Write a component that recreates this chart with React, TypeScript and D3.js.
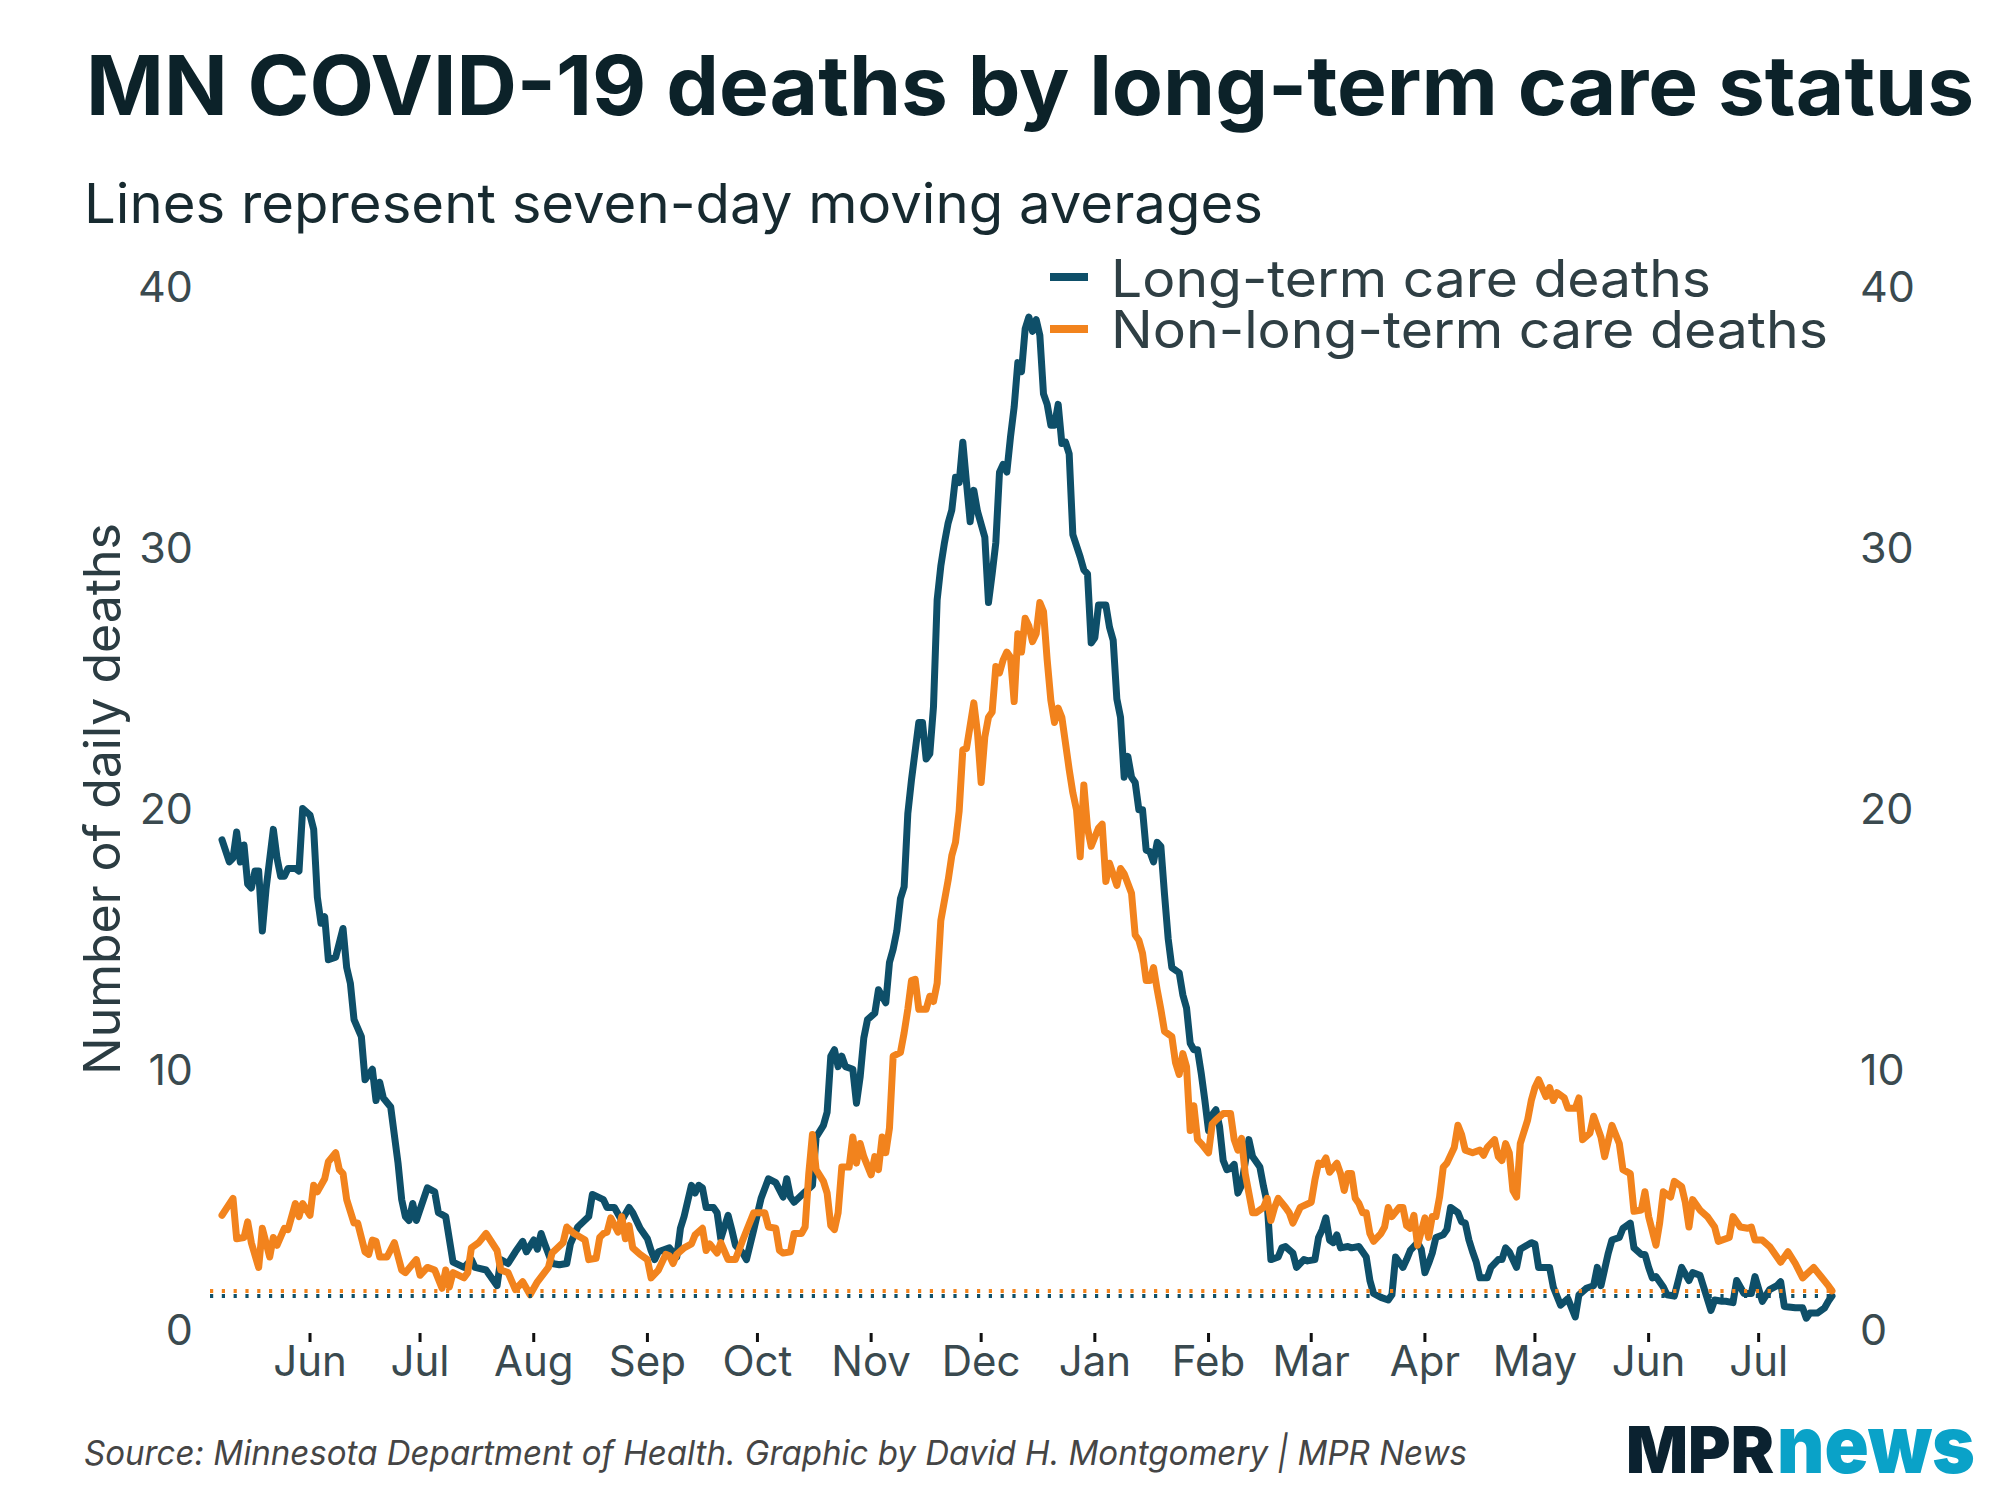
import React from "react";
import * as d3 from "d3";

// [day offset from 2020-06-01, 7-day average deaths]
const ltcSeries: [number, number][] = [
  [-24,18.8],[-22,17.95],[-21,18.1],[-20,19.1],[-19,17.95],[-18,18.6],[-17,17.1],[-16,16.95],[-15,17.6],[-14,17.6],[-13,15.3],[-12,16.9],[-10,19.2],[-9,18.1],[-8,17.4],[-7,17.4],[-6,17.7],[-4,17.7],[-3,17.6],[-2,20.0],[0,19.75],[1,19.2],[2,16.6],[3,15.6],[4,15.85],[5,14.2],[7,14.3],[9,15.4],[10,13.9],[11,13.3],[12,11.9],[14,11.25],[15,9.6],[17,10.0],[18,8.8],[19,9.5],[20,8.9],[22,8.55],[24,6.4],[25,5.0],[26,4.35],[27,4.2],[28,4.85],[29,4.2],[32,5.45],[34,5.3],[35,4.5],[37,4.35],[39,2.6],[42,2.4],[44,2.7],[45,2.4],[48,2.3],[51,1.7],[52,2.7],[54,2.55],[56,3.0],[58,3.4],[59,3.0],[61,3.45],[62,3.1],[63,3.7],[64,3.3],[66,2.55],[68,2.5],[70,2.55],[71,3.3],[73,3.95],[76,4.35],[77,5.2],[80,5.0],[81,4.7],[83,4.7],[85,4.2],[87,4.7],[88,4.5],[90,3.9],[92,3.5],[93,3.05],[94,2.7],[95,3.0],[98,3.15],[100,2.8],[101,3.9],[102,4.35],[104,5.55],[105,5.25],[106,5.55],[107,5.45],[108,4.7],[110,4.7],[111,4.5],[112,3.5],[114,4.4],[115,3.85],[116,3.25],[118,2.95],[119,2.7],[121,3.85],[123,5.05],[125,5.8],[127,5.65],[129,5.1],[130,5.8],[131,5.1],[132,4.9],[135,5.3],[137,5.55],[138,7.4],[140,7.85],[141,8.35],[142,10.5],[143,10.75],[144,10.1],[145,10.5],[146,10.1],[148,10.0],[149,8.7],[150,9.7],[151,11.2],[152,11.9],[154,12.15],[155,13.05],[157,12.55],[158,14.1],[159,14.6],[160,15.3],[161,16.55],[162,17.0],[163,19.8],[164,21.1],[166,23.3],[167,23.3],[168,21.9],[169,22.1],[170,23.9],[171,28.0],[172,29.3],[173,30.2],[174,30.95],[175,31.45],[176,32.7],[177,32.5],[178,34.05],[179,32.5],[180,31.0],[181,32.2],[182,31.4],[184,30.4],[185,27.9],[186,29.0],[187,30.2],[188,32.9],[189,33.2],[190,32.9],[191,34.25],[192,35.4],[193,37.1],[194,36.75],[195,38.4],[196,38.85],[197,38.3],[198,38.75],[199,38.15],[200,35.9],[201,35.5],[202,34.7],[203,34.7],[204,35.5],[205,34.0],[206,34.05],[207,33.6],[208,30.5],[210,29.65],[211,29.15],[212,29.0],[213,26.35],[214,26.55],[215,27.8],[217,27.8],[218,26.95],[219,26.45],[220,24.2],[221,23.5],[222,21.2],[223,22.0],[224,21.2],[225,21.0],[226,19.95],[227,19.95],[228,18.4],[229,18.35],[230,17.95],[231,18.7],[232,18.55],[233,16.7],[234,15.0],[235,13.9],[237,13.7],[238,12.85],[239,12.35],[240,11.0],[241,10.75],[242,10.75],[243,9.85],[244,8.8],[245,7.65],[246,8.25],[247,8.45],[248,7.8],[249,6.5],[250,6.15],[251,6.2],[252,6.35],[253,5.25],[254,5.55],[256,7.3],[257,6.65],[259,6.25],[260,5.5],[261,4.85],[262,2.7],[264,2.8],[265,3.15],[266,3.2],[268,2.95],[269,2.4],[271,2.7],[272,2.65],[274,2.7],[275,3.55],[276,3.85],[277,4.3],[278,3.45],[279,3.35],[280,3.65],[281,3.15],[283,3.2],[284,3.15],[286,3.2],[287,3.0],[288,2.8],[289,1.9],[290,1.4],[292,1.25],[294,1.15],[295,1.35],[296,2.8],[298,2.4],[299,2.7],[300,3.05],[302,3.35],[303,3.1],[304,2.2],[305,2.55],[306,2.95],[307,3.55],[309,3.65],[310,3.85],[311,4.7],[313,4.5],[314,4.15],[315,4.1],[316,3.45],[317,3.0],[318,2.6],[319,2.0],[321,2.0],[322,2.4],[324,2.7],[325,2.7],[326,3.15],[327,3.0],[329,2.4],[330,3.1],[333,3.35],[334,3.3],[335,2.4],[338,2.4],[339,1.65],[341,0.95],[343,1.2],[345,0.5],[346,1.35],[348,1.6],[350,1.7],[351,2.4],[352,1.7],[354,2.95],[355,3.45],[357,3.55],[358,3.9],[360,4.1],[361,3.15],[363,2.9],[364,2.9],[365,2.4],[366,2.0],[367,2.05],[369,1.65],[370,1.35],[372,1.3],[373,1.85],[374,2.4],[376,1.9],[377,2.2],[379,2.1],[380,1.65],[382,0.75],[383,1.15],[385,1.1],[386,1.1],[388,1.05],[389,1.9],[391,1.4],[393,1.4],[394,2.05],[396,1.1],[398,1.55],[400,1.7],[401,1.85],[402,0.9],[405,0.85],[407,0.85],[408,0.45],[409,0.65],[411,0.65],[413,0.85],[414,1.1],[415,1.3]
];

const nonLtcSeries: [number, number][] = [
  [-24,4.4],[-21,5.05],[-20,3.5],[-18,3.55],[-17,4.15],[-16,3.35],[-14,2.4],[-13,3.9],[-11,2.8],[-10,3.55],[-9,3.25],[-7,3.9],[-6,3.85],[-4,4.85],[-3,4.35],[-2,4.85],[0,4.4],[1,5.55],[2,5.3],[4,5.8],[5,6.45],[7,6.8],[8,6.15],[9,6.0],[10,5.0],[12,4.1],[13,4.1],[15,3.0],[16,2.9],[17,3.45],[18,3.4],[19,2.8],[21,2.8],[23,3.35],[25,2.3],[26,2.2],[29,2.7],[30,2.1],[32,2.4],[34,2.3],[36,1.6],[37,2.3],[38,1.65],[39,2.2],[42,2.0],[43,2.2],[44,3.15],[46,3.35],[48,3.7],[51,3.05],[52,2.3],[54,2.2],[56,1.55],[58,1.85],[60,1.35],[62,1.85],[65,2.4],[66,2.95],[69,3.35],[70,3.95],[72,3.7],[75,3.45],[76,2.7],[78,2.75],[79,3.55],[80,3.7],[81,3.75],[82,4.3],[84,3.75],[85,4.35],[86,3.5],[87,4.0],[88,3.15],[90,2.9],[92,2.7],[93,2.0],[95,2.3],[97,2.9],[98,2.85],[99,2.55],[100,2.9],[102,3.15],[104,3.3],[105,3.65],[107,3.9],[108,3.05],[109,3.3],[111,2.95],[112,3.35],[114,2.7],[116,2.7],[118,3.45],[121,4.5],[124,4.5],[125,3.95],[127,3.9],[128,3.05],[129,2.95],[131,3.0],[132,3.7],[134,3.7],[135,3.95],[136,6.0],[137,7.5],[138,6.15],[140,5.7],[141,5.25],[142,4.0],[143,3.85],[144,4.5],[145,6.25],[147,6.25],[148,7.4],[149,6.4],[150,7.15],[151,6.65],[153,5.95],[154,6.65],[155,6.15],[156,7.4],[157,6.8],[158,7.75],[159,10.5],[161,10.65],[162,11.4],[163,12.3],[164,13.4],[165,13.45],[166,12.3],[168,12.3],[169,12.8],[170,12.6],[171,13.3],[172,15.7],[174,17.25],[175,18.2],[176,18.7],[177,19.9],[178,22.25],[179,22.3],[181,24.05],[182,22.9],[183,21.0],[184,22.75],[185,23.5],[186,23.7],[187,25.45],[188,25.2],[189,25.7],[190,26.0],[191,25.8],[192,24.1],[193,26.7],[194,26.0],[195,27.3],[196,27.0],[197,26.4],[198,26.7],[199,27.9],[200,27.55],[201,25.7],[202,24.15],[203,23.3],[204,23.85],[205,23.5],[206,22.5],[207,21.5],[208,20.6],[209,19.95],[210,18.15],[211,20.9],[212,19.25],[213,18.55],[215,19.25],[216,19.4],[217,17.2],[218,17.9],[220,17.05],[221,17.7],[222,17.5],[224,16.75],[225,15.15],[226,14.95],[227,14.45],[228,13.4],[229,13.4],[230,13.9],[231,13.05],[232,12.3],[233,11.45],[235,11.25],[236,10.25],[237,9.8],[238,10.6],[239,10.1],[240,7.65],[241,8.6],[242,7.3],[243,7.15],[245,6.8],[246,7.9],[247,8.05],[249,8.3],[251,8.3],[252,7.3],[253,6.9],[254,7.35],[255,6.0],[257,4.5],[258,4.5],[260,4.7],[261,5.05],[262,4.2],[263,4.7],[264,5.05],[266,4.7],[267,4.5],[268,4.1],[270,4.7],[273,4.9],[274,5.75],[275,6.4],[276,6.35],[277,6.6],[278,6.05],[280,6.4],[281,6.0],[282,5.35],[283,6.0],[284,6.0],[285,5.05],[286,4.85],[287,4.5],[288,4.5],[289,3.7],[290,3.4],[292,3.7],[293,3.95],[294,4.7],[295,4.35],[297,4.7],[298,4.7],[299,4.0],[300,3.9],[301,4.4],[302,3.25],[304,4.3],[305,3.55],[306,4.35],[307,4.35],[308,5.1],[309,6.25],[310,6.4],[312,7.0],[313,7.85],[314,7.5],[315,6.9],[317,6.8],[319,6.9],[320,6.7],[321,7.0],[323,7.3],[324,6.65],[325,6.5],[326,7.15],[327,6.8],[328,5.35],[329,5.1],[330,7.15],[332,8.05],[333,8.8],[334,9.3],[335,9.6],[337,8.95],[338,9.3],[339,8.8],[340,9.1],[342,8.9],[343,8.5],[345,8.5],[346,8.9],[347,7.3],[349,7.55],[350,8.2],[352,7.4],[353,6.65],[355,7.85],[357,7.15],[358,6.15],[360,6.0],[361,4.55],[363,4.6],[364,5.3],[365,4.35],[367,3.25],[368,4.1],[369,5.3],[371,5.1],[372,5.7],[374,5.5],[375,4.9],[376,3.95],[377,5.0],[379,4.6],[381,4.35],[383,3.95],[384,3.4],[387,3.55],[388,4.35],[390,3.95],[392,3.9],[393,3.95],[394,3.45],[396,3.45],[398,3.2],[400,2.8],[401,2.6],[403,3.0],[405,2.55],[407,2.0],[410,2.4],[412,2.05],[414,1.7],[415,1.5]
];

const yTicks = [0, 10, 20, 30, 40];
const seriesNames = ["Long-term care deaths", "Non-long-term care deaths"];
const seriesColors = ["#0e4f69", "#f2831d"];

const START = Date.UTC(2020, 5, 1);
const toDate = (d: number) => new Date(START + d * 86400000);

const FONT = "Inter, 'Noto Sans', sans-serif";

export default function App() {
  const x = d3.scaleUtc().domain([toDate(-24), toDate(415)]).range([222, 1832]);
  const y = d3.scaleLinear().domain([0, 40]).range([1330, 287]);
  const line = d3
    .line<[number, number]>()
    .x((d) => x(toDate(d[0])))
    .y((d) => y(d[1]));
  const months = d3.utcMonth.range(new Date(Date.UTC(2020, 5, 1)), new Date(Date.UTC(2021, 6, 2)));
  const fmt = d3.utcFormat("%b");
  const lastLtc = ltcSeries[ltcSeries.length - 1][1];
  const lastNon = nonLtcSeries[nonLtcSeries.length - 1][1];
  const x0 = 210;
  const x1 = 1838;

  return (
    <svg width={2000} height={1500} style={{ position: "absolute", left: 0, top: 0, background: "#fff" }} fontFamily={FONT}>
      <rect width={2000} height={1500} fill="#fff" />
      <text x={86} y={115} fontSize={82} fontWeight={700} fill="#0c2229" textLength={1888} lengthAdjust="spacingAndGlyphs">
        MN COVID-19 deaths by long-term care status
      </text>
      <text x={84} y={223} fontSize={55} fill="#172a30" textLength={1179} lengthAdjust="spacingAndGlyphs">
        Lines represent seven-day moving averages
      </text>

      {/* y axis label */}
      <text
        transform={`translate(120, 799) rotate(-90)`}
        textAnchor="middle"
        fontSize={50}
        fill="#2b3c42"
        textLength={552}
        lengthAdjust="spacingAndGlyphs"
      >
        Number of daily deaths
      </text>

      {/* y tick labels */}
      {yTicks.map((t) => (
        <g key={t}>
          <text x={193} y={y(t)} dy="0.36em" textAnchor="end" fontSize={43} fill="#3a4a4f">
            {t}
          </text>
          <text x={1860} y={y(t)} dy="0.36em" textAnchor="start" fontSize={43} fill="#3a4a4f">
            {t}
          </text>
        </g>
      ))}

      {/* x ticks */}
      {months.map((m) => (
        <g key={m.toISOString()}>
          <line x1={x(m)} x2={x(m)} y1={1333} y2={1342} stroke="#111" strokeWidth={3} />
          <text x={x(m)} y={1376} textAnchor="middle" fontSize={42} fill="#3a4a4f">
            {fmt(m)}
          </text>
        </g>
      ))}

      {/* lines */}
      <path d={line(ltcSeries) || ""} fill="none" stroke={seriesColors[0]} strokeWidth={7} strokeLinejoin="round" strokeLinecap="round" />
      <path d={line(nonLtcSeries) || ""} fill="none" stroke={seriesColors[1]} strokeWidth={7} strokeLinejoin="round" strokeLinecap="round" />

      {/* dotted current-level lines */}
      <line x1={x0} x2={x1} y1={y(lastNon)} y2={y(lastNon)} stroke={seriesColors[1]} strokeWidth={4} strokeDasharray="3.2 8.6" />
      <line x1={x0} x2={x1} y1={y(lastLtc)} y2={y(lastLtc)} stroke={seriesColors[0]} strokeWidth={4} strokeDasharray="3.2 8.6" />

      {/* legend */}
      {seriesNames.map((n, i) => (
        <g key={n}>
          <line x1={1050} x2={1088} y1={277 + i * 52} y2={277 + i * 52} stroke={seriesColors[i]} strokeWidth={8} />
          <text x={1111} y={297 + i * 51} fontSize={52} fill="#2f3f44" textLength={i === 0 ? 600 : 717} lengthAdjust="spacingAndGlyphs">
            {n}
          </text>
        </g>
      ))}

      {/* source */}
      <text x={84} y={1465} fontSize={34} fontStyle="italic" fill="#454545" textLength={1383} lengthAdjust="spacingAndGlyphs">
        Source: Minnesota Department of Health. Graphic by David H. Montgomery | MPR News
      </text>

      {/* logo */}
      <text x={1626} y={1473} fontSize={64} fontWeight={900} fill="#0b2230" textLength={148} lengthAdjust="spacingAndGlyphs">
        MPR
      </text>
      <text x={1777} y={1473} fontSize={80} fontWeight={900} fill="#0aa2c8" textLength={198} lengthAdjust="spacingAndGlyphs">
        news
      </text>
    </svg>
  );
}
